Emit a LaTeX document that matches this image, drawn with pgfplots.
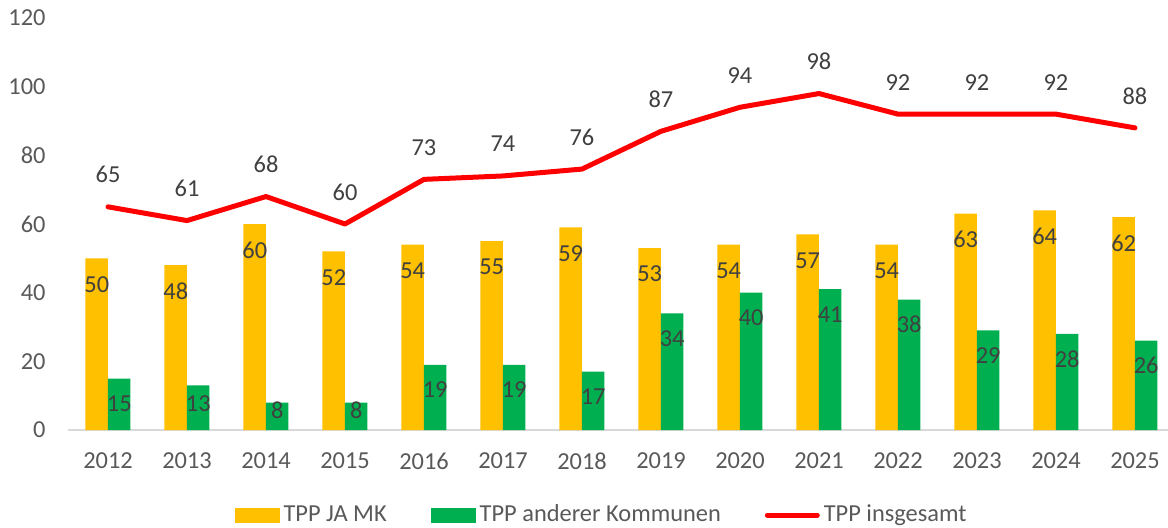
\documentclass[border=0pt]{standalone}
\usepackage{fontspec}
\setmainfont{Carlito}
\usepackage{pgfplots}
\usepackage{pgfplotstable}
\pgfplotsset{compat=1.18}
\definecolor{cOrange}{HTML}{FFC000}
\definecolor{cGreen}{HTML}{00B050}
\definecolor{cRed}{HTML}{FF0000}
\definecolor{cTick}{HTML}{595959}
\definecolor{cLab}{HTML}{404040}
\definecolor{cAxis}{HTML}{D9D9D9}
\newcommand{\chartfont}{\fontsize{12.2pt}{14.6pt}\selectfont}

\pgfplotstableread{
x ja andere gesamt
0 50 15 65
1 48 13 61
2 60 8 68
3 52 8 60
4 54 19 73
5 55 19 74
6 59 17 76
7 53 34 87
8 54 40 94
9 57 41 98
10 54 38 92
11 63 29 92
12 64 28 92
13 62 26 88
}\datatable

% label positions for green bars (y = label centre, meta = shown value)
\pgfplotstableread{
x ly val
0 7.7 15
1 7.8 13
2 5.8 8
3 5.8 8
4 11.7 19
5 11.7 19
6 9.7 17
7 26.7 34
8 32.7 40
9 33.7 41
10 30.7 38
11 21.7 29
12 20.7 28
13 18.7 26
}\greenlabels

\begin{document}
\begin{tikzpicture}
\path[use as bounding box] (-34.25pt,-48.5pt) rectangle (549.75pt,215pt);
\begin{axis}[
  scale only axis,
  width=549.75pt, height=206pt,
  at={(0pt,0pt)}, anchor=south west,
  xmin=-0.5, xmax=13.418,
  ymin=0, ymax=120,
  ytick={0,20,...,120},
  xtick=data,
  xticklabels={2012,2013,2014,2015,2016,2017,2018,2019,2020,2021,2022,2023,2024,2025},
  major tick length=0pt,
  separate axis lines,
  axis x line*=bottom,
  axis y line*=left,
  x axis line style={draw=cAxis, line width=0.75pt, -},
  y axis line style={draw=none},
  /pgf/number format/assume math mode=true,
  tick label style={font=\chartfont, text=cTick},
  xticklabel style={anchor=center, inner sep=0pt, yshift=-15.5pt},
  yticklabel style={anchor=east, inner sep=0pt, xshift=-11.25pt},
  clip=false,
  legend columns=3,
  legend style={
    at={(0.4857,-0.2063)}, anchor=center,
    draw=none, fill=none,
    font=\chartfont, text=cTick,
    /tikz/every even column/.append style={column sep=20pt},
    legend cell align=left,
  },
]
\addplot[ybar, bar width=11.25pt, bar shift=-5.625pt, fill=cOrange, draw=none,
  nodes near coords, point meta=explicit symbolic,
  every node near coord/.style={anchor=center, xshift=-5.625pt, yshift=-13pt, font=\chartfont, text=cLab},
  legend image code/.code={\fill[cOrange] (0pt,-3.75pt) rectangle (22.5pt,3.75pt);}]
  table[x=x, y=ja, meta=ja] {\datatable};
\addlegendentry{TPP JA MK}
\addplot[ybar, bar width=11.25pt, bar shift=5.625pt, fill=cGreen, draw=none,
  legend image code/.code={\fill[cGreen] (0pt,-3.75pt) rectangle (22.5pt,3.75pt);}]
  table[x=x, y=andere] {\datatable};
\addlegendentry{TPP anderer Kommunen}
\addplot[cRed, line width=2.5pt, line join=round, line cap=round, mark=none,
  nodes near coords, point meta=explicit symbolic,
  every node near coord/.style={anchor=center, yshift=16pt, font=\chartfont, text=cLab},
  legend image code/.code={\draw[cRed, line width=2.5pt, line cap=round] (0pt,0pt) -- (25pt,0pt);}]
  table[x=x, y=gesamt, meta=gesamt] {\datatable};
\addlegendentry{TPP insgesamt}
\addplot[forget plot, ybar, bar width=11.25pt, bar shift=5.625pt, draw=none, fill=none,
  nodes near coords, point meta=explicit symbolic,
  every node near coord/.style={anchor=center, xshift=5.625pt, font=\chartfont, text=cLab}]
  table[x=x, y=ly, meta=val] {\greenlabels};
\end{axis}
\end{tikzpicture}
\end{document}
